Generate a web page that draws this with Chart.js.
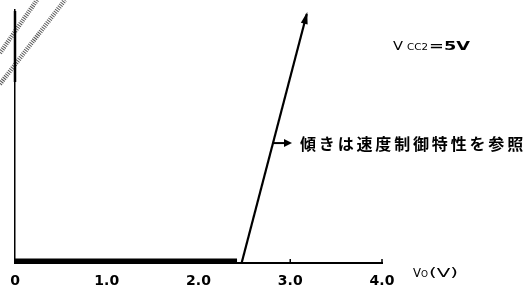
<!DOCTYPE html>
<html>
<head>
<meta charset="utf-8">
<script src="https://cdn.jsdelivr.net/npm/chart.js@4/dist/chart.umd.min.js"></script>
<style>
html,body{margin:0;padding:0;background:#fff;}
#wrap{width:529px;height:285px;position:relative;}
</style>
</head>
<body>
<div id="wrap"><canvas id="c" width="529" height="285"></canvas></div>
<script>
// Data
const xTickValues = [0, 1.0, 2.0, 3.0, 4.0];
const xTickLabels = ["0", "1.0", "2.0", "3.0", "4.0"];
const flatX = [0, 2.42];
const flatY = [1, 1];
const riseX = [2.47, 3.18];
const riseY = [0, 98.4];
const noteText = "傾きは速度制御特性を参照";
const noteY = 47.4;
const vccMain = "V";
const vccSub = "CC2";
const vccRest = "=5V";
const axisTitleMain = "V";
const axisTitleSub = "O";
const axisTitleRest = "(V)";

const toPts = (xs, ys) => xs.map((x, i) => ({x: x, y: ys[i]}));

function drawFit(ctx, text, x0, x1, y, font) {
  ctx.save();
  ctx.font = font;
  const w = ctx.measureText(text).width;
  ctx.translate(x0, y);
  ctx.scale((x1 - x0) / w, 1);
  ctx.fillText(text, 0, 0);
  ctx.restore();
}

const overlay = {
  id: 'overlay',
  afterDatasetsDraw(chart) {
    const ctx = chart.ctx;
    const xs = chart.scales.x, ys = chart.scales.y;
    ctx.save();
    // hatched break marks top-left
    ctx.strokeStyle = '#5a5a5a';
    ctx.lineWidth = 4.5;
    ctx.setLineDash([1, 1.2]);
    ctx.beginPath(); ctx.moveTo(0, 53); ctx.lineTo(37, 0); ctx.stroke();
    ctx.beginPath(); ctx.moveTo(0, 84); ctx.lineTo(65, 0); ctx.stroke();
    ctx.setLineDash([]);
    // thicker upper part of y axis
    ctx.strokeStyle = '#000';
    ctx.lineWidth = 2.5;
    ctx.beginPath(); ctx.moveTo(xs.left, ys.top + 1); ctx.lineTo(xs.left, 82); ctx.stroke();
    // tick marks (upward)
    ctx.lineWidth = 1.5;
    xTickValues.forEach(v => {
      const px = xs.getPixelForValue(v);
      ctx.beginPath(); ctx.moveTo(px, ys.bottom); ctx.lineTo(px, ys.bottom - 4); ctx.stroke();
    });
    // arrowhead at tip of rising line
    const x0 = xs.getPixelForValue(riseX[0]), y0 = ys.getPixelForValue(riseY[0]);
    const x1 = xs.getPixelForValue(riseX[1]), y1 = ys.getPixelForValue(riseY[1]);
    const ang = Math.atan2(y1 - y0, x1 - x0);
    const L = 10, W = 3.5;
    ctx.fillStyle = '#000';
    ctx.beginPath();
    ctx.moveTo(x1 + Math.cos(ang) * 2, y1 + Math.sin(ang) * 2);
    ctx.lineTo(x1 - Math.cos(ang) * L - Math.sin(ang) * W, y1 - Math.sin(ang) * L + Math.cos(ang) * W);
    ctx.lineTo(x1 - Math.cos(ang) * L + Math.sin(ang) * W, y1 - Math.sin(ang) * L - Math.cos(ang) * W);
    ctx.closePath(); ctx.fill();
    // annotation arrow from the line
    const t = (noteY - riseY[0]) / (riseY[1] - riseY[0]);
    const ax = x0 + (x1 - x0) * t, ay = ys.getPixelForValue(noteY);
    ctx.lineWidth = 2;
    ctx.beginPath(); ctx.moveTo(ax, ay); ctx.lineTo(ax + 13, ay); ctx.stroke();
    ctx.beginPath(); ctx.moveTo(ax + 19, ay); ctx.lineTo(ax + 11, ay - 4); ctx.lineTo(ax + 11, ay + 4); ctx.closePath(); ctx.fill();
    // annotation text
    ctx.font = 'bold 16px "Noto Sans CJK JP"';
    ctx.textBaseline = 'middle';
    ctx.textAlign = 'left';
    let tx = ax + 27;
    const step = (526 - tx) / noteText.length;
    for (const ch of noteText) {
      ctx.fillText(ch, tx, ay + 1);
      tx += step;
    }
    // Vcc2 = 5V
    ctx.textBaseline = 'alphabetic';
    drawFit(ctx, vccMain, 393, 403, 50, '13px "DejaVu Sans"');
    drawFit(ctx, vccSub, 407, 428, 50, '9px "DejaVu Sans"');
    drawFit(ctx, vccRest, 429, 470, 50, 'bold 13px "DejaVu Sans"');
    // axis title
    drawFit(ctx, axisTitleMain, 413, 421, 277, '12px "DejaVu Sans"');
    drawFit(ctx, axisTitleSub, 421, 428, 277, '8px "DejaVu Sans"');
    drawFit(ctx, axisTitleRest, 429, 458, 277, '12px "DejaVu Sans"');
    ctx.restore();
  }
};

new Chart(document.getElementById('c'), {
  type: 'scatter',
  data: {
    datasets: [
      { data: toPts(flatX, flatY), showLine: true, borderColor: '#000', borderWidth: 4, pointRadius: 0, borderCapStyle: 'butt' },
      { data: toPts(riseX, riseY), showLine: true, borderColor: '#000', borderWidth: 2.2, pointRadius: 0 }
    ]
  },
  options: {
    responsive: false,
    animation: false,
    devicePixelRatio: 1,
    layout: { padding: { left: 15, right: 147, top: 10, bottom: 0 } },
    plugins: { legend: { display: false }, tooltip: { enabled: false } },
    scales: {
      x: {
        type: 'linear', min: 0, max: 4,
        afterFit: s => { s.height = 22; },
        afterBuildTicks: s => { s.ticks = xTickValues.map(v => ({value: v})); },
        grid: { display: false },
        border: { display: true, color: '#000', width: 2 },
        ticks: {
          color: '#000', padding: 2, maxRotation: 0, autoSkip: false,
          font: { family: 'DejaVu Sans', weight: 'bold', size: 14 },
          callback: (v) => { const i = xTickValues.indexOf(v); return i >= 0 ? xTickLabels[i] : ''; }
        }
      },
      y: {
        type: 'linear', min: 0, max: 100,
        afterFit: s => { s.width = 0; },
        grid: { display: false },
        border: { display: true, color: '#000', width: 1.5 },
        ticks: { display: false }
      }
    }
  },
  plugins: [overlay]
});
</script>
</body>
</html>
